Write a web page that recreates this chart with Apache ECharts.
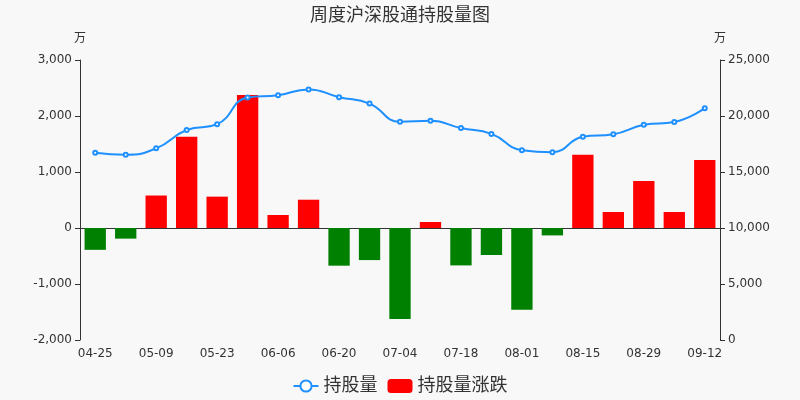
<!DOCTYPE html>
<html><head><meta charset="utf-8">
<script src="https://cdn.jsdelivr.net/npm/echarts@6/dist/echarts.min.js"></script>
<style>html,body{margin:0;padding:0;background:#f8f8f8}#c{width:800px;height:400px}</style>
</head><body><div id="c"></div>
<script>
var categories = ['04-25','05-02','05-09','05-16','05-23','05-30','06-06','06-13','06-20','06-27','07-04','07-11','07-18','07-25','08-01','08-08','08-15','08-22','08-29','09-05','09-12'];
var holdings = [16720,16540,17110,18750,19270,21650,21860,22370,21680,21110,19480,19570,18920,18400,16950,16770,18140,18370,19210,19470,20700];
var changes = [-390,-190,580,1630,560,2375,232,505,-673,-573,-1625,107,-668,-482,-1459,-132,1309,286,839,286,1214];

var font = 'DejaVu Sans, Noto Sans CJK SC, sans-serif';
var barData = changes.map(function(v){ return { value: v, itemStyle: { color: v >= 0 ? '#ff0000' : '#008000' } }; });
var chart = echarts.init(document.getElementById('c'));
chart.setOption({
  backgroundColor: '#f8f8f8',
  textStyle: { fontFamily: font },
  title: { text: '周度沪深股通持股量图', left: 'center', top: 2, textStyle: { fontSize: 18, fontWeight: 'normal', color: '#333', fontFamily: font } },
  legend: { bottom: 0, itemGap: 10, textStyle: { fontSize: 18, color: '#333', fontFamily: font },
    data: ['持股量', '持股量涨跌'] },
  grid: { left: 80, right: 80, top: 60, bottom: 60 },
  xAxis: { type: 'category', data: categories,
    axisLine: { lineStyle: { color: '#333' } },
    axisLabel: { interval: 1, color: '#333', fontSize: 12, fontFamily: font } },
  yAxis: [
    { type: 'value', name: '万', min: -2000, max: 3000, interval: 1000,
      nameTextStyle: { color: '#333', align: 'center', fontFamily: font },
      axisLine: { show: true, lineStyle: { color: '#333' } }, axisTick: { show: true },
      splitLine: { show: false }, axisLabel: { color: '#333', fontFamily: font } },
    { type: 'value', name: '万', min: 0, max: 25000, interval: 5000,
      nameTextStyle: { color: '#333', align: 'center', fontFamily: font },
      axisLine: { show: true, lineStyle: { color: '#333' } }, axisTick: { show: true },
      splitLine: { show: false }, axisLabel: { color: '#333', fontFamily: font } }
  ],
  series: [
    { name: '持股量', type: 'line', yAxisIndex: 1, data: holdings, smooth: true,
      symbol: 'emptyCircle', symbolSize: 4, z: 3,
      lineStyle: { color: '#1e90ff', width: 2 }, itemStyle: { color: '#1e90ff' } },
    { name: '持股量涨跌', type: 'bar', yAxisIndex: 0, data: barData, barWidth: '70%',
      itemStyle: { color: '#ff0000' } }
  ]
});
</script></body></html>
